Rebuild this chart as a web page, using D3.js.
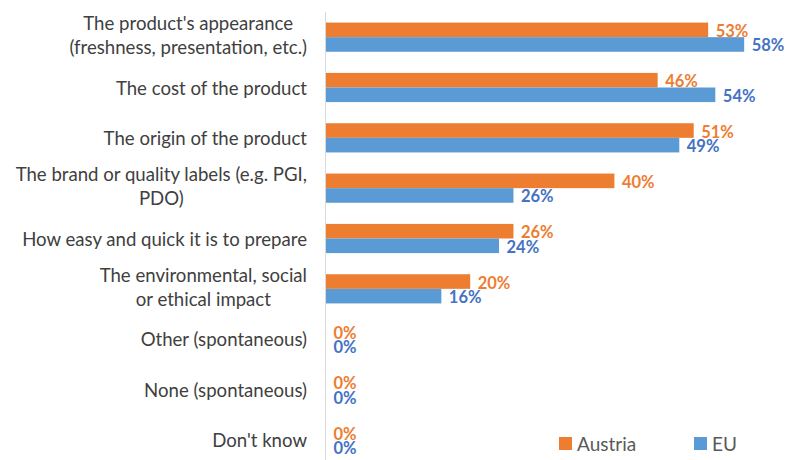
<!DOCTYPE html>
<html>
<head>
<meta charset="utf-8">
<script src="https://cdn.jsdelivr.net/npm/d3@7"></script>
<style>
  body { margin: 0; background: #fff; }
  svg { font-family: Lato, 'Open Sans', sans-serif; }
</style>
</head>
<body>
<script>
// data
const categories = [
  "The product's appearance\n(freshness, presentation, etc.)",
  'The cost of the product',
  'The origin of the product',
  'The brand or quality labels (e.g. PGI,\nPDO)',
  'How easy and quick it is to prepare',
  'The environmental, social\nor ethical impact',
  'Other (spontaneous)',
  'None (spontaneous)',
  "Don't know"
]
const seriesNames = ['Austria', 'EU']
const austria = [53, 46, 51, 40, 26, 20, 0, 0, 0]
const eu = [58, 54, 49, 26, 24, 16, 0, 0, 0]

const W = 787, H = 460
const AXIS_X = 326
const BAR_COLORS = { Austria: '#ED7D31', EU: '#5B9BD5' }
const LABEL_COLORS = { Austria: '#ED7D31', EU: '#4472C4' }

const rows = categories.map((c, i) => ({ cat: c, Austria: austria[i], EU: eu[i] }))

const svg = d3.select('body').append('svg')
  .attr('width', W)
  .attr('height', H)

// scales
const x = d3.scaleLinear()
  .domain([0, 60])
  .range([AXIS_X, AXIS_X + 432.6])

const y = d3.scaleBand()
  .domain(categories)
  .range([12, 465])
  .paddingInner(0.42)
  .paddingOuter(0.21)

const ySub = d3.scaleBand()
  .domain(seriesNames)
  .range([0, y.bandwidth()])

// bars
const group = svg.append('g')
  .selectAll('g')
  .data(rows)
  .join('g')
    .attr('transform', (d) => 'translate(0,' + y(d.cat) + ')')

group.selectAll('rect')
  .data((d) => seriesNames.map((s) => ({ s: s, v: d[s] })))
  .join('rect')
    .attr('x', x(0))
    .attr('y', (d) => ySub(d.s))
    .attr('width', (d) => x(d.v) - x(0))
    .attr('height', ySub.bandwidth())
    .attr('fill', (d) => BAR_COLORS[d.s])

// value labels
group.selectAll('text')
  .data((d) => seriesNames.map((s) => ({ s: s, v: d[s] })))
  .join('text')
    .attr('x', (d) => x(d.v) + 7.5)
    .attr('y', (d) => ySub(d.s) + ySub.bandwidth() / 2 + 1)
    .attr('dominant-baseline', 'central')
    .attr('font-size', 16.5)
    .attr('font-weight', 'bold')
    .attr('fill', (d) => LABEL_COLORS[d.s])
    .text((d) => d.v + '%')

// category axis line
svg.append('line')
  .attr('x1', AXIS_X - 0.5).attr('x2', AXIS_X - 0.5)
  .attr('y1', 12).attr('y2', H)
  .attr('stroke', '#D9D9D9')
  .attr('stroke-width', 1)

// category labels, centred block aligned to the right
const LINE_H = 24
const labels = svg.append('g')
  .selectAll('text')
  .data(categories)
  .join('text')
    .attr('font-size', 18.6)
    .attr('fill', '#404040')
    .attr('text-anchor', 'middle')
    .attr('dominant-baseline', 'central')

labels.each(function(c) {
  const t = d3.select(this)
  const lines = c.split('\n')
  const cy = y(c) + y.bandwidth() / 2 - (lines.length - 1) * LINE_H / 2 - (lines.length > 1 ? 2 : 0)
  const spans = lines.map((l, i) => t.append('tspan').attr('y', cy + i * LINE_H).text(l))
  const maxW = d3.max(spans, (s) => s.node().getComputedTextLength())
  spans.forEach((s) => s.attr('x', AXIS_X - 19 - maxW / 2))
})

// legend
const legend = svg.append('g')
  .selectAll('g')
  .data(seriesNames)
  .join('g')
    .attr('transform', (d, i) => 'translate(' + (559 + i * 135) + ',437)')
legend.append('rect')
  .attr('width', 13).attr('height', 13)
  .attr('fill', (d) => BAR_COLORS[d])
legend.append('text')
  .attr('x', 18).attr('y', 6.5)
  .attr('dominant-baseline', 'central')
  .attr('font-size', 19)
  .attr('fill', '#595959')
  .text((d) => d)
</script>
</body>
</html>
